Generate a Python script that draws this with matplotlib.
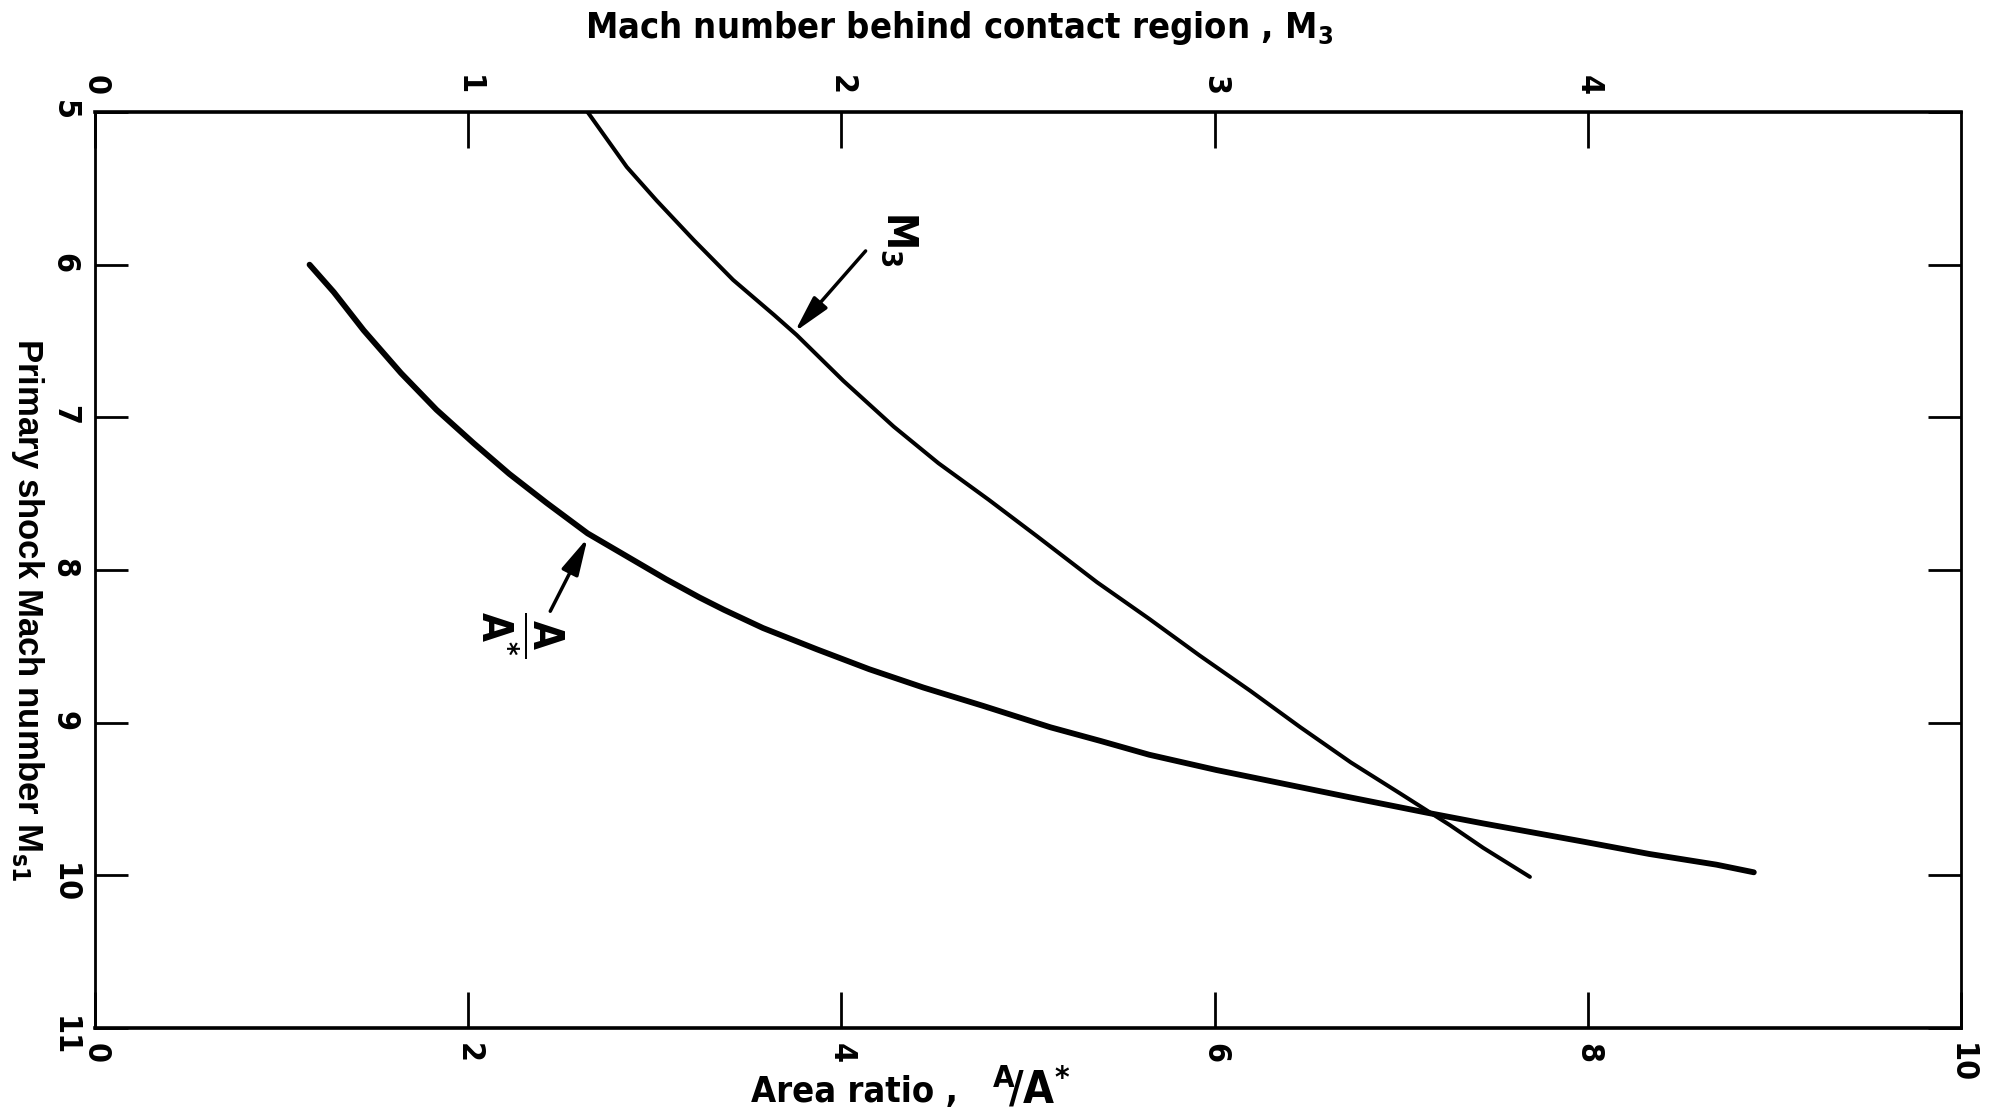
import matplotlib
matplotlib.use("Agg")
import matplotlib.pyplot as plt

# lower curve: area ratio A/A* against primary shock Mach number
area_ratio = [1.15, 1.28, 1.44, 1.64, 1.83, 2.03, 2.22, 2.42, 2.64, 2.85,
              3.06, 3.24, 3.37, 3.58, 3.87, 4.15, 4.44, 4.76, 5.12, 5.39,
              5.65, 6.01, 6.37, 6.73, 7.14, 7.44, 7.80, 7.98, 8.33, 8.69,
              8.89]
ms1_area = [6.00, 6.18, 6.43, 6.71, 6.95, 7.17, 7.37, 7.56, 7.76, 7.91,
            8.06, 8.18, 8.26, 8.38, 8.52, 8.65, 8.77, 8.89, 9.03, 9.12,
            9.21, 9.31, 9.40, 9.49, 9.59, 9.66, 9.74, 9.78, 9.86, 9.93,
            9.98]

# upper curve: Mach number behind contact region M3 (top axis)
m3 = [1.32, 1.355, 1.425, 1.505, 1.605, 1.71, 1.82, 1.88, 2.005, 2.14,
      2.26, 2.395, 2.525, 2.685, 2.825, 2.96, 3.095, 3.23, 3.365, 3.495,
      3.63, 3.72, 3.845]
ms1_m3 = [5.00, 5.12, 5.36, 5.58, 5.84, 6.10, 6.33, 6.46, 6.76, 7.06,
          7.30, 7.54, 7.78, 8.08, 8.32, 8.56, 8.79, 9.03, 9.26, 9.46,
          9.67, 9.82, 10.01]

bottom_ticks = [0, 2, 4, 6, 8, 10]
top_ticks = [0, 1, 2, 3, 4]
left_ticks = [5, 6, 7, 8, 9, 10, 11]

plt.rcParams['font.family'] = ['DejaVu Sans']
plt.rcParams['font.weight'] = 'bold'
plt.rcParams['font.stretch'] = 'condensed'
plt.rcParams['mathtext.fontset'] = 'dejavusans'
plt.rcParams['mathtext.default'] = 'bf'

fig = plt.figure(figsize=(19.91, 11.19), dpi=100)
ax = fig.add_axes([0.0477, 0.0813, 0.9372, 0.8186])
ax.set_xlim(0, 10)
ax.set_ylim(11, 5)

ax.plot(area_ratio, ms1_area, color='black', lw=4.2, solid_capstyle='round')

ax.set_xticks(bottom_ticks)
ax.set_xticklabels([str(t) for t in bottom_ticks])
ax.set_yticks(left_ticks)
ax.set_yticklabels([str(t) for t in left_ticks])
ax.tick_params(axis='x', direction='in', length=26, width=2, labelsize=23,
               labelrotation=-90, pad=11)
ax.tick_params(axis='y', direction='in', length=24, width=2, labelsize=23,
               labelrotation=-90, pad=11, right=True)
for side in ['top', 'bottom']:
    ax.spines[side].set_linewidth(2.6)
for side in ['left', 'right']:
    ax.spines[side].set_linewidth(2)

ax2 = ax.twiny()
ax2.set_xlim(0, 5)
ax2.plot(m3, ms1_m3, color='black', lw=2.9, solid_capstyle='round')
ax2.set_xticks(top_ticks)
ax2.set_xticklabels([str(t) for t in top_ticks])
ax2.tick_params(axis='x', direction='in', length=26, width=2, labelsize=23,
                labelrotation=-90, pad=12)

# curve labels with arrows
arrow = dict(arrowstyle='-|>,head_length=0.9,head_width=0.22', lw=2.5,
             color='black', mutation_scale=25, shrinkA=0, shrinkB=0)
ax.annotate('', xy=(3.75, 6.44), xytext=(4.13, 5.91), arrowprops=arrow)
ax.text(4.31, 5.83, 'M$_3$', rotation=-90, fontsize=30, ha='center', va='center')
ax.annotate('', xy=(2.64, 7.79), xytext=(2.44, 8.27), arrowprops=arrow)
ax.text(2.29, 8.42, r'$\dfrac{A}{A^{*}}$', rotation=-90, fontsize=30,
        ha='center', va='center')

fig.text(0.4816, 0.975, 'Mach number behind contact region , M$_3$',
         ha='center', va='center', fontsize=26)
fig.text(0.429, 0.024, 'Area ratio ,', ha='center', va='center', fontsize=26)
fig.text(0.518, 0.027, r'$^{A}\!/A^{*}$', ha='center', va='center',
         fontsize=32)
fig.text(0.014, 0.455, 'Primary shock Mach number M$_{s1}$', rotation=-90,
         ha='center', va='center', fontsize=25, family='Liberation Sans',
         stretch='normal')

fig.savefig('out.png', dpi=100, facecolor='white')
